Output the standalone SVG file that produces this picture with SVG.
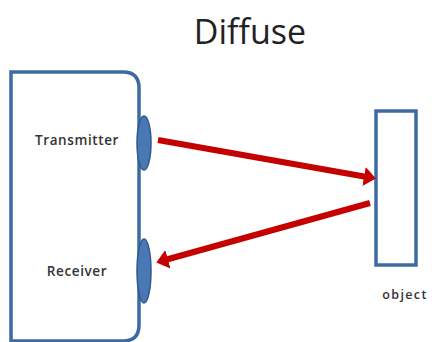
<svg xmlns="http://www.w3.org/2000/svg" width="432" height="342" viewBox="0 0 432 342">
<style>
.box{fill:#fff;stroke:#3e6aa3;stroke-width:3.5}
.bump{fill:#4a78b5;stroke:#2f5a90;stroke-width:1.5}
.lbl{font-family:"Open Sans","Liberation Sans",sans-serif;font-size:13.5px;font-weight:600;fill:#333;letter-spacing:0.6px}
.title{font-family:"Open Sans","Liberation Sans",sans-serif;font-size:34px;fill:#222}
.beam{stroke:#c40000;stroke-width:6;fill:none}
</style>
<defs>
<marker id="ah" markerWidth="4" markerHeight="4" refX="0.5" refY="2" orient="auto" markerUnits="strokeWidth">
<path d="M0,0.4 L2,2 L0,3.6 z" fill="#c40000"/>
</marker>
</defs>
<text class="title" x="250" y="44" text-anchor="middle">Diffuse</text>
<g id="device">
<path class="box" d="M11,72 H123 Q139,72 139,88 V325 Q139,341 123,341 H11 Z"/>
<ellipse class="bump" cx="144" cy="143" rx="7" ry="27"/>
<ellipse class="bump" cx="144" cy="271" rx="7" ry="32"/>
<text class="lbl" x="77" y="145" text-anchor="middle">Transmitter</text>
<text class="lbl" x="77" y="276" text-anchor="middle">Receiver</text>
</g>
<g id="object">
<rect class="box" x="376" y="111" width="40" height="154"/>
<text class="lbl" x="405" y="299" text-anchor="middle" style="font-size:12.5px;letter-spacing:1.4px">object</text>
</g>
<g id="connectors">
<line class="beam" x1="158" y1="140" x2="367" y2="177" marker-end="url(#ah)"/>
<line class="beam" x1="370" y1="203" x2="165" y2="260" marker-end="url(#ah)"/>
</g>
</svg>
